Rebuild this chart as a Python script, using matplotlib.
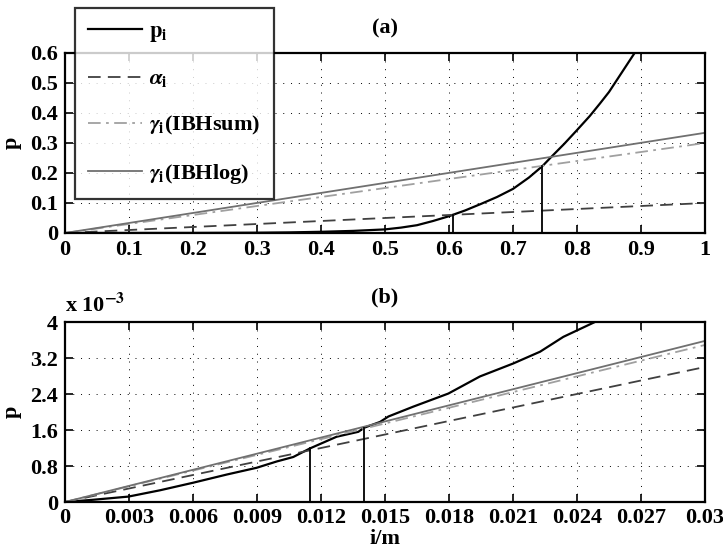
import matplotlib
matplotlib.use("Agg")
import matplotlib.pyplot as plt
from matplotlib.ticker import FuncFormatter
import numpy as np

plt.rcParams['font.family'] = ['Liberation Serif', 'DejaVu Serif']
plt.rcParams['font.weight'] = 'bold'
plt.rcParams['mathtext.fontset'] = 'stix'

# (a) full range
x_a = [0, 0.2, 0.3, 0.35, 0.4, 0.45, 0.5, 0.525, 0.55, 0.575, 0.6, 0.625, 0.65, 0.675, 0.7,
       0.725, 0.746, 0.76, 0.78, 0.8, 0.82, 0.836, 0.85, 0.87, 0.89]
p_a = [0, 0.0003, 0.001, 0.002, 0.004, 0.007, 0.012, 0.018, 0.026, 0.04, 0.056, 0.075, 0.097,
       0.12, 0.147, 0.185, 0.223, 0.254, 0.297, 0.343, 0.39, 0.432, 0.47, 0.535, 0.60]
line_x_a = [0, 1]
alpha_a = [0, 0.1]
ibhsum_a = [0, 0.3]
ibhlog_a = [0, 0.334]
cut_x_a = [0.606, 0.746]
cut_y_a = [0.060, 0.223]

# (b) zoom near origin
x_b = [0, 0.00133, 0.00297, 0.00445, 0.00602, 0.00758, 0.00898, 0.00992, 0.0107, 0.01148,
       0.01273, 0.01375, 0.01402, 0.01477, 0.01516, 0.01633, 0.01797, 0.01945, 0.02102,
       0.02227, 0.02336, 0.02484]
p_b = [0, 0.05e-3, 0.12e-3, 0.26e-3, 0.43e-3, 0.61e-3, 0.76e-3, 0.90e-3, 1.0e-3, 1.19e-3,
       1.45e-3, 1.56e-3, 1.65e-3, 1.78e-3, 1.9e-3, 2.12e-3, 2.41e-3, 2.79e-3, 3.08e-3,
       3.34e-3, 3.67e-3, 4.0e-3]
line_x_b = [0, 0.03]
alpha_b = [0, 3.0e-3]
ibhsum_b = [0, 3.49e-3]
ibhlog_b = [0, 3.58e-3]
cut_x_b = [0.01148, 0.01402]
cut_y_b = [1.19e-3, 1.65e-3]

W, H = 723, 555
fig = plt.figure(figsize=(W / 100, H / 100), dpi=100)
ax1 = fig.add_axes([65 / W, 1 - 233 / H, 640 / W, 180 / H])
ax2 = fig.add_axes([65 / W, 1 - 502 / H, 640 / W, 180 / H])

FS = 16
c_alpha = '#404040'
c_sum = '#a0a0a0'
c_log = '#707070'


def draw(ax, x, p, lx, al, su, lg, cx, cy):
    h1, = ax.plot(x, p, color='black', lw=1.6, label=r'$\mathbf{p}_\mathbf{i}$')
    h2, = ax.plot(lx, al, color=c_alpha, lw=1.3, dashes=(7, 4), label=r'$\alpha_\mathbf{i}$')
    h3, = ax.plot(lx, su, color=c_sum, lw=1.3, dashes=(7, 3, 1.5, 3),
                  label=r'$\gamma_\mathbf{i}$(IBHsum)')
    h4, = ax.plot(lx, lg, color=c_log, lw=1.3, label=r'$\gamma_\mathbf{i}$(IBHlog)')
    for xx, yy in zip(cx, cy):
        ax.plot([xx, xx], [0, yy], color='black', lw=1.3)
    ax.grid(True, color='black', linestyle=(0, (1, 7)), lw=0.7)
    ax.tick_params(direction='in', top=True, right=True, labelsize=FS, length=6, width=1.2, pad=5)
    for s in ax.spines.values():
        s.set_linewidth(1.6)
    ax.set_ylabel('p', fontsize=FS, fontweight='bold', labelpad=6)
    return [h1, h2, h3, h4]


handles = draw(ax1, x_a, p_a, line_x_a, alpha_a, ibhsum_a, ibhlog_a, cut_x_a, cut_y_a)
ax1.set_xlim(0, 1)
ax1.set_ylim(0, 0.6)
ax1.set_xticks(np.arange(0, 1.01, 0.1))
ax1.set_yticks(np.arange(0, 0.61, 0.1))
ax1.xaxis.set_major_formatter(FuncFormatter(lambda v, _: f'{round(v, 1):g}'))
ax1.yaxis.set_major_formatter(FuncFormatter(lambda v, _: f'{round(v, 1):g}'))
ax1.set_title('(a)', fontsize=FS, fontweight='bold', pad=14)

draw(ax2, x_b, p_b, line_x_b, alpha_b, ibhsum_b, ibhlog_b, cut_x_b, cut_y_b)
ax2.set_xlim(0, 0.03)
ax2.set_ylim(0, 4e-3)
ax2.set_xticks(np.linspace(0, 0.03, 11))
ax2.set_yticks(np.linspace(0, 4e-3, 6))
ax2.tick_params(axis='x', pad=4)
ax2.xaxis.set_major_formatter(FuncFormatter(lambda v, _: f'{round(v, 3):g}'))
ax2.yaxis.set_major_formatter(FuncFormatter(lambda v, _: f'{round(v * 1e3, 1):g}'))
ax2.set_title('(b)', fontsize=FS, fontweight='bold', pad=14)
ax2.set_xlabel('i/m', fontsize=FS, fontweight='bold', labelpad=1)
ax2.text(0.0, 1.03, r'x 10$^{\mathbf{-3}}$', transform=ax2.transAxes, fontsize=FS,
         fontweight='bold', ha='left', va='bottom')

leg = fig.legend(handles=handles, loc='upper left', bbox_to_anchor=(75 / W, 1 - 8 / H),
                 borderaxespad=0, fontsize=FS, frameon=True, fancybox=False, edgecolor='black',
                 handlelength=2.4, labelspacing=1.12, borderpad=0.6, handletextpad=0.35)
leg.get_frame().set_linewidth(1.6)
leg.set_zorder(10)

fig.savefig('out.png', dpi=100)
